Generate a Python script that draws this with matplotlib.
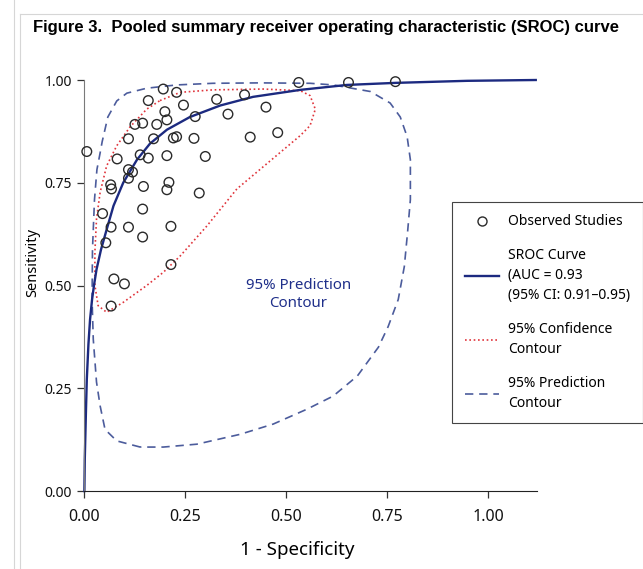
import matplotlib
matplotlib.use("Agg")
import matplotlib.pyplot as plt
from matplotlib.lines import Line2D

# observed studies (1 - specificity, sensitivity)
study_fpr = [0.007, 0.196, 0.159, 0.229, 0.246, 0.200, 0.205, 0.275, 0.328, 0.356,
             0.397, 0.450, 0.531, 0.654, 0.770, 0.126, 0.145, 0.180, 0.110, 0.172,
             0.221, 0.229, 0.272, 0.411, 0.479, 0.082, 0.139, 0.159, 0.205, 0.300,
             0.110, 0.120, 0.110, 0.066, 0.068, 0.147, 0.210, 0.205, 0.285, 0.145,
             0.046, 0.067, 0.110, 0.145, 0.215, 0.054, 0.215, 0.074, 0.100, 0.067]
study_sens = [0.826, 0.978, 0.950, 0.970, 0.939, 0.923, 0.903, 0.911, 0.953, 0.917,
              0.964, 0.934, 0.994, 0.994, 0.996, 0.892, 0.895, 0.892, 0.857, 0.857,
              0.859, 0.862, 0.858, 0.861, 0.872, 0.808, 0.818, 0.810, 0.816, 0.814,
              0.782, 0.776, 0.761, 0.745, 0.735, 0.741, 0.751, 0.733, 0.725, 0.686,
              0.675, 0.642, 0.642, 0.618, 0.644, 0.604, 0.551, 0.516, 0.504, 0.450]

# SROC curve
sroc_x = [0.001, 0.002, 0.005, 0.007, 0.011, 0.015, 0.020, 0.025, 0.031, 0.042,
          0.056, 0.073, 0.097, 0.131, 0.163, 0.205, 0.262, 0.337, 0.418, 0.535,
          0.650, 0.770, 0.947, 1.117]
sroc_y = [0.000, 0.078, 0.199, 0.272, 0.357, 0.417, 0.466, 0.502, 0.539, 0.587,
          0.636, 0.694, 0.750, 0.806, 0.845, 0.879, 0.910, 0.938, 0.959, 0.976,
          0.988, 0.993, 0.998, 1.000]

# 95% confidence contour
conf_x = [0.188, 0.238, 0.319, 0.443, 0.535, 0.559, 0.572, 0.559, 0.535, 0.378,
          0.304, 0.238, 0.196, 0.155, 0.097, 0.056, 0.035, 0.027, 0.027, 0.031,
          0.040, 0.056, 0.081, 0.114, 0.155, 0.188]
conf_y = [0.950, 0.970, 0.976, 0.978, 0.974, 0.962, 0.929, 0.889, 0.865, 0.735,
          0.645, 0.572, 0.532, 0.500, 0.459, 0.435, 0.451, 0.500, 0.582, 0.662,
          0.727, 0.791, 0.840, 0.886, 0.929, 0.950]

# 95% prediction contour
pred_x = [0.139, 0.081, 0.052, 0.040, 0.031, 0.023, 0.020, 0.021, 0.026, 0.032,
          0.040, 0.045, 0.059, 0.081, 0.106, 0.155, 0.229, 0.319, 0.436, 0.559,
          0.616, 0.708, 0.757, 0.782, 0.799, 0.807, 0.807, 0.800, 0.792, 0.777,
          0.752, 0.728, 0.676, 0.616, 0.551, 0.468, 0.386, 0.279, 0.196, 0.139]
pred_y = [0.107, 0.122, 0.150, 0.207, 0.265, 0.369, 0.466, 0.587, 0.709, 0.782,
          0.823, 0.850, 0.910, 0.949, 0.968, 0.980, 0.988, 0.992, 0.993, 0.992,
          0.988, 0.972, 0.944, 0.910, 0.862, 0.806, 0.709, 0.629, 0.546, 0.466,
          0.400, 0.350, 0.280, 0.231, 0.199, 0.163, 0.138, 0.114, 0.107, 0.107]

x_ticks = [0.0, 0.25, 0.5, 0.75, 1.0]
y_ticks = [0.0, 0.25, 0.5, 0.75, 1.0]

body = ["Noto Sans", "DejaVu Sans"]
title_font = ["Liberation Sans", "DejaVu Sans"]

navy = "#1c2a80"
pred_col = "#4c5c9c"
conf_col = "#e0353c"

fig = plt.figure(figsize=(6.43, 5.69), dpi=100)
ax = fig.add_axes([0.1306, 0.1370, 0.7045, 0.7224])

ax.plot(pred_x, pred_y, color=pred_col, lw=1.2, dashes=(5, 3.5), clip_on=False)
ax.plot(conf_x, conf_y, color=conf_col, lw=1.2, dashes=(1, 1.6), clip_on=False)
ax.plot(sroc_x, sroc_y, color=navy, lw=1.7, clip_on=False)
ax.scatter(study_fpr, study_sens, s=48, facecolors="none", edgecolors="#2a2a2a",
           linewidths=1.0, clip_on=False, zorder=3)

ax.text(0.53, 0.478, "95% Prediction\nContour", color="#1f2f8a", ha="center",
        va="center", fontsize=10.8, family=body, linespacing=1.35)

ax.set_xlim(0, 1.12)
ax.set_ylim(0, 1.0)
ax.set_xticks(x_ticks)
ax.set_yticks(y_ticks)
ax.set_xticklabels([f"{t:.2f}" for t in x_ticks], family=body, fontsize=11.5)
ax.set_yticklabels([f"{t:.2f}" for t in y_ticks], family=body, fontsize=10)
ax.tick_params(length=5, width=0.9, colors="#333333", labelcolor="#111111")
ax.tick_params(axis="x", pad=8)
ax.spines["top"].set_visible(False)
ax.spines["right"].set_visible(False)
ax.spines["left"].set_color("#7a7a7a")
ax.spines["bottom"].set_color("#222222")

ax.set_xlabel("1 - Specificity", family=body, fontsize=13.5)
ax.set_ylabel("Sensitivity", family=body, fontsize=10.5)
ax.xaxis.set_label_coords(0.471, -0.122)
ax.yaxis.set_label_coords(-0.097, 0.557)

handles = [
    Line2D([], [], ls="none", marker="o", markerfacecolor="none",
           markeredgecolor="#2a2a2a", markersize=6.5),
    Line2D([], [], color=navy, lw=1.7),
    Line2D([], [], color=conf_col, lw=1.2, dashes=(1, 1.6)),
    Line2D([], [], color=pred_col, lw=1.2, dashes=(5, 3.5)),
]
labels = ["Observed Studies",
          "SROC Curve\n(AUC = 0.93\n(95% CI: 0.91\u20130.95)",
          "95% Confidence\nContour",
          "95% Prediction\nContour"]
leg = ax.legend(handles, labels, loc="upper left", bbox_to_anchor=(0.703, 0.645),
                bbox_transform=fig.transFigure, borderaxespad=0, fancybox=False,
                edgecolor="#444444", framealpha=1, handlelength=2.45,
                handletextpad=0.7, labelspacing=1.35, borderpad=0.9,
                prop={"family": body, "size": 10})
leg.get_frame().set_linewidth(0.8)
for t in leg.get_texts():
    t.set_linespacing(1.45)

fig.text(0.052, 0.952, "Figure 3.  Pooled summary receiver operating characteristic (SROC) curve",
         family=title_font, fontsize=12, fontweight="bold", ha="left", va="center")

# thin page frame around the figure
for xy in ([(0.022, 0.022), (0.0, 1.0)], [(0.031, 0.031), (0.0, 0.975)],
           [(0.031, 1.0), (0.975, 0.975)]):
    fig.add_artist(Line2D(xy[0], xy[1], color="#d6d6d6", lw=0.8,
                          transform=fig.transFigure))

fig.savefig("out.png", dpi=100)
